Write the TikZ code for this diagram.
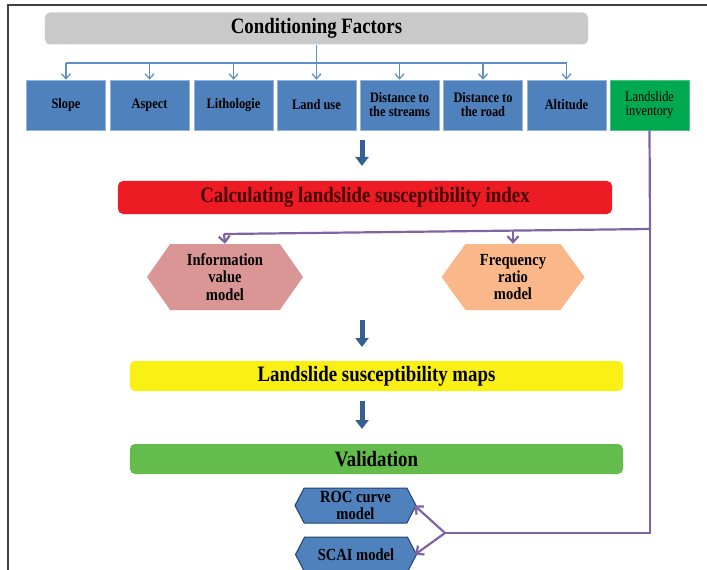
\documentclass[tikz,border=0pt]{standalone}
\usepackage{fontspec}
\setmainfont{Liberation Serif}[FakeStretch=0.86]
\usetikzlibrary{arrows.meta,shapes.symbols}
\definecolor{cfgray}{RGB}{201,201,201}
\definecolor{boxblue}{RGB}{79,129,189}
\definecolor{boxblueedge}{RGB}{150,180,215}
\definecolor{invgreen}{RGB}{0,168,80}
\definecolor{calcred}{RGB}{237,28,36}
\definecolor{hexpink}{RGB}{217,150,148}
\definecolor{hexpeach}{RGB}{249,183,138}
\definecolor{mapyellow}{RGB}{250,240,20}
\definecolor{valgreen}{RGB}{100,188,76}
\definecolor{hexblueedge}{RGB}{38,64,115}
\definecolor{arrowblue}{RGB}{55,96,146}
\definecolor{thinblue}{RGB}{95,143,195}
\definecolor{lilac}{RGB}{128,100,162}
\definecolor{darkred}{RGB}{70,0,0}
\begin{document}
\begin{tikzpicture}[x=1bp,y=-1bp,
  bigtxt/.style={font=\bfseries\fontsize{22pt}{24pt}\selectfont},
  titlebox/.style={rounded corners=5bp, minimum height=#1, inner sep=0pt, bigtxt},
  factor/.style={fill=boxblue, draw=boxblueedge, line width=0.6bp, minimum width=79bp, minimum height=50bp,
     inner sep=0pt, align=center, font=\bfseries\fontsize{14.5pt}{14pt}\selectfont},
  hexa/.style={signal, signal to=west and east, signal pointer angle=#1, inner sep=0pt, align=center},
  thickarrow/.style={arrowblue, line width=5bp, -{Triangle[width=13bp,length=9bp]}},
  thinconn/.style={thinblue, line width=1.3bp, -{Straight Barb[length=5bp,width=9bp]}},
  purpconn/.style={lilac, line width=2.2bp},
  purparrow/.style={lilac, line width=2.2bp, -{Straight Barb[length=6bp,width=11bp]}},
]
\useasboundingbox (0,0) rectangle (707,570);
% frame
\draw[line width=1.2bp, black!75] (8,570) -- (8,5) -- (707,5);

% conditioning factors
\node[titlebox=32bp, fill=cfgray, minimum width=543bp] (cf) at (316.5,28.5) {Conditioning Factors};

% factor boxes
\node[factor] (b1) at (66,105) {Slope};
\node[factor] (b2) at (149.5,105) {Aspect};
\node[factor] (b3) at (233.5,105) {Lithologie};
\node[factor] (b4) at (316.5,105) {Land use};
\node[factor] (b5) at (399.5,105) {Distance to\\the streams};
\node[factor] (b6) at (483,105) {Distance to\\the road};
\node[factor] (b7) at (566.5,105) {Altitude};
\node[factor, fill=invgreen, draw=invgreen!70!white, font=\fontsize{14.5pt}{14pt}\selectfont] (b8) at (649.5,105) {Landslide\\inventory};

\coordinate (bus) at (316.5,63);
\draw[thinblue, line width=1.3bp] (cf.south) -- (bus);
\draw[thinblue, line width=1.3bp] (bus -| b1.north) -- (bus -| b7.north);
\foreach \b in {b1,b2,b3,b4,b5,b6,b7}{
  \draw[thinconn] (bus -| \b.north) -- (\b.north);
}

% calculating
\coordinate (a1s) at (362,140);
\coordinate (a1e) at (362,166);
\draw[thickarrow] (a1s) -- (a1e);
\node[titlebox=33bp, fill=calcred, minimum width=494bp, text=darkred] (calc) at (365,197.5) {Calculating landslide susceptibility index};

% hexagons
\node[hexa=110, fill=hexpink, minimum width=156bp, minimum height=66bp,
  font=\bfseries\fontsize{17pt}{17.5pt}\selectfont] (iv) at (225,277) {Information\\value\\model};
\node[hexa=108, fill=hexpeach, minimum width=143bp, minimum height=66bp,
  font=\bfseries\fontsize{17pt}{17.5pt}\selectfont] (fr) at (513,277) {Frequency\\ratio\\model};

\coordinate (a2s) at (362,320);
\coordinate (a2e) at (362,347);
\draw[thickarrow] (a2s) -- (a2e);
\node[titlebox=30bp, fill=mapyellow, minimum width=493bp] (maps) at (376.5,376) {Landslide susceptibility maps};

\coordinate (a3s) at (362,401);
\coordinate (a3e) at (362,429);
\draw[thickarrow] (a3s) -- (a3e);
\node[titlebox=30bp, fill=valgreen, minimum width=493bp] (val) at (376.5,459) {Validation};

\node[hexa=125, fill=boxblue, draw=hexblueedge, line width=1bp, minimum width=121bp, minimum height=35bp,
  font=\bfseries\fontsize{17pt}{17pt}\selectfont] (roc) at (355.5,505.5) {ROC curve\\model};
\node[hexa=125, fill=boxblue, draw=hexblueedge, line width=1bp, minimum width=121bp, minimum height=35bp,
  font=\bfseries\fontsize{17pt}{17pt}\selectfont] (scai) at (356,554.5) {SCAI model};

% purple connectors
\coordinate (pv1) at (650,229);
\coordinate (pl) at (224,234);
\coordinate (pf) at (513,230.6);
\coordinate (pv2) at (650,533);
\coordinate (pj) at (445,533);
\draw[purpconn] (b8.south) -- (pv1) -- (pl);
\draw[purpconn] (pv1) -- (pv2) -- (pj);
\draw[purparrow] (pl) -- (iv.north);
\draw[purparrow] (pf) -- (fr.north);
\draw[purparrow] (pj) -- ([xshift=-2bp]roc.east);
\draw[purparrow] (pj) -- ([xshift=-2bp]scai.east);
\end{tikzpicture}
\end{document}
